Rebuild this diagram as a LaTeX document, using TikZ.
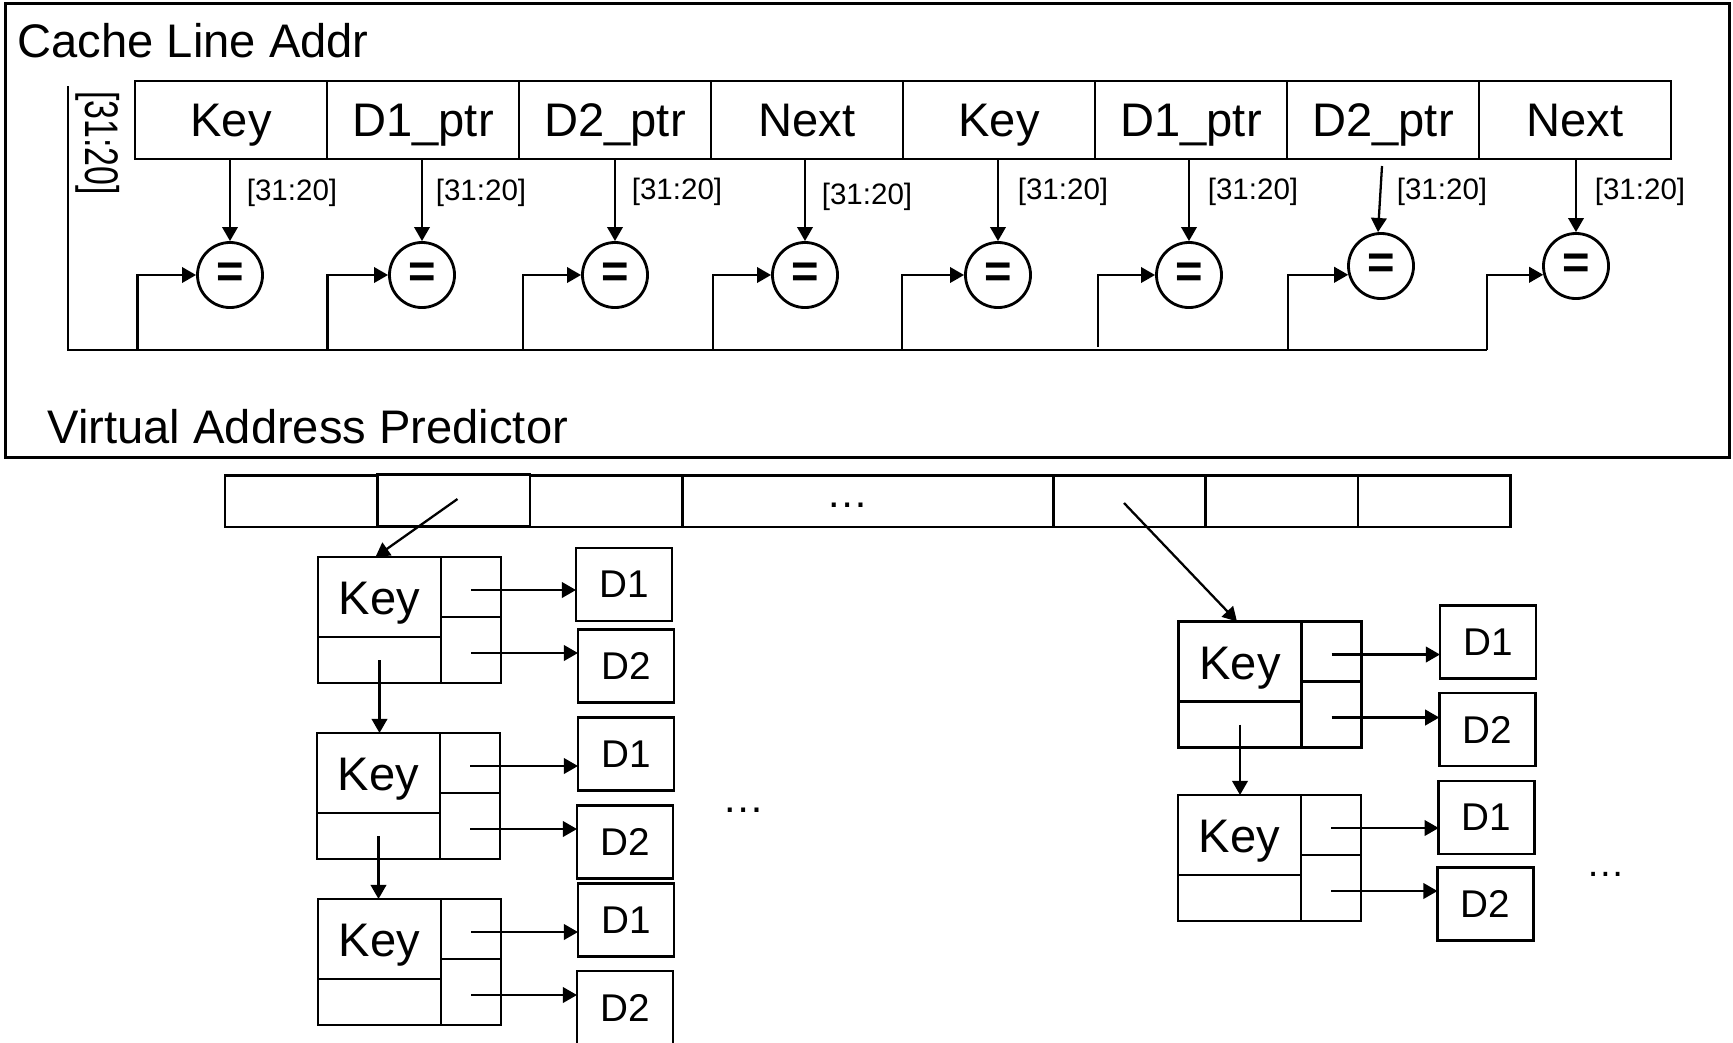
\documentclass[tikz,border=0pt]{standalone}
\usepackage{fontspec}
\setmainfont{Liberation Sans}
\usetikzlibrary{arrows.meta,calc}
\newcommand{\LLnode}[3]{% name, left x, top y
  \node[keybox] (#1k) at (#2+61.5,#3+40) {Key};
  \node[box, minimum width=1.23cm, minimum height=0.46cm] (#1n) at (#2+61.5,#3+103) {};
  \node[box, minimum width=0.60cm, minimum height=0.60cm] (#1p) at (#2+153,#3+30) {};
  \node[box, minimum width=0.60cm, minimum height=0.66cm] (#1q) at (#2+153,#3+93) {};
  \coordinate (#1pa) at ($(#1p.center)+(0,3)$);
  \coordinate (#1qa) at ($(#1q.center)+(0,3)$);
}
\begin{document}
\begin{tikzpicture}[x=0.01cm,y=-0.01cm,
  box/.style={draw, line width=0.8pt, inner sep=0pt, outer sep=0pt},
  bigtxt/.style={font=\fontsize{13.4}{16}\selectfont},
  field/.style={box, bigtxt, minimum width=1.92cm, minimum height=0.78cm, text height=12.5pt, text depth=2.95pt},
  cmp/.style={draw, circle, line width=0.8pt, minimum size=0.65cm, inner sep=0pt, font=\fontsize{13.4}{16}\selectfont\bfseries},
  lbl/.style={font=\fontsize{8.4}{10}\selectfont, inner sep=0pt},
  conn/.style={line width=0.65pt},
  arr/.style={conn, -{Triangle[length=4pt,width=4.4pt]}},
  keybox/.style={box, bigtxt, minimum width=1.23cm, minimum height=0.8cm, text height=12.9pt, text depth=2.95pt},
  dbox/.style={box, font=\fontsize{11}{13}\selectfont, minimum width=0.96cm, minimum height=0.73cm},
  cellbox/.style={box, minimum height=0.515cm},
  dots/.style={inner sep=0pt, font=\fontsize{12}{14}\selectfont}
]
\useasboundingbox (0,0) rectangle (1733,1042);
\clip (0,0) rectangle (1733,1042);

% ---------- upper frame ----------
\node[box, minimum width=17.23cm, minimum height=4.53cm] (frame) at (867.5,230.5) {};
\node[bigtxt, anchor=base west, inner sep=0pt] (t1) at (17,57) {Cache Line Addr};
\node[bigtxt, anchor=base west, inner sep=0pt] (t2) at (47,443) {Virtual Address Predictor};
\node[bigtxt, rotate=-90, inner sep=0pt] (vl) at (98,143) {\scalebox{0.72}[1]{[31:20]}};

% fields
\node[field] (f1) at (231,120) {Key};
\node[field] (f2) at (423,120) {D1\_ptr};
\node[field] (f3) at (615,120) {D2\_ptr};
\node[field] (f4) at (807,120) {Next};
\node[field] (f5) at (999,120) {Key};
\node[field] (f6) at (1191,120) {D1\_ptr};
\node[field] (f7) at (1383,120) {D2\_ptr};
\node[field] (f8) at (1575,120) {Next};

% comparators
\node[cmp] (c1) at (230,275) {\raisebox{-0.08em}{=}};
\node[cmp] (c2) at (422,275) {\raisebox{-0.08em}{=}};
\node[cmp] (c3) at (615,275) {\raisebox{-0.08em}{=}};
\node[cmp] (c4) at (805,275) {\raisebox{-0.08em}{=}};
\node[cmp] (c5) at (998,275) {\raisebox{-0.08em}{=}};
\node[cmp] (c6) at (1189,275) {\raisebox{-0.08em}{=}};
\node[cmp] (c7) at (1381,266) {\raisebox{-0.08em}{=}};
\node[cmp] (c8) at (1576,266) {\raisebox{-0.08em}{=}};

\draw[arr] (f1.south -| c1) -- (c1);
\draw[arr] (f2.south -| c2) -- (c2);
\draw[arr] (f3.south -| c3) -- (c3);
\draw[arr] (f4.south -| c4) -- (c4);
\draw[arr] (f5.south -| c5) -- (c5);
\draw[arr] (f6.south -| c6) -- (c6);
\draw[arr] ($(f7.south)+(-1,7)$) -- ($(c7.north)+(-3,0)$);
\draw[arr] (f8.south -| c8) -- (c8);

\node[lbl] (l1) at (292,193) {[31:20]};
\node[lbl] (l2) at (481,193) {[31:20]};
\node[lbl] (l3) at (677,192) {[31:20]};
\node[lbl] (l4) at (867,197) {[31:20]};
\node[lbl] (l5) at (1063,192) {[31:20]};
\node[lbl] (l6) at (1253,192) {[31:20]};
\node[lbl] (l7) at (1442,192) {[31:20]};
\node[lbl] (l8) at (1640,192) {[31:20]};

% bus
\coordinate (bt) at (68,86);
\coordinate (bb) at (1487,350);
\draw[conn] (bt) |- (bb);
\coordinate (r1) at (137.5,350);
\coordinate (r2) at (327.5,350);
\coordinate (r3) at (523,350);
\coordinate (r4) at (713,350);
\coordinate (r5) at (902,350);
\coordinate (r6) at (1098,347);
\coordinate (r7) at (1288,350);
\draw[arr] (r1) |- (c1.west);
\draw[arr] (r2) |- (c2.west);
\draw[arr] (r3) |- (c3.west);
\draw[arr] (r4) |- (c4.west);
\draw[arr] (r5) |- (c5.west);
\draw[arr] (r6) |- (c6.west);
\draw[arr] (r7) |- (c7.195);
\draw[arr] (bb) |- (c8.195);

% ---------- lower: hash table ----------
\node[cellbox, minimum width=1.525cm] (a1) at (301.25,501.25) {};
\node[cellbox, minimum width=1.525cm] (a2) at (453.75,500.5) {};
\node[cellbox, minimum width=1.525cm] (a3) at (606.25,501.25) {};
\node[cellbox, minimum width=3.705cm] (a4) at (867.75,501.25) {};
\node[cellbox, minimum width=1.525cm] (a5) at (1129.25,501.25) {};
\node[cellbox, minimum width=1.525cm] (a6) at (1281.75,501.25) {};
\node[cellbox, minimum width=1.525cm] (a7) at (1434.25,501.25) {};
\node[dots] (e0) at (848,505) {…};

% linked nodes
\LLnode{L1}{318}{557}
\LLnode{L2}{317}{733}
\LLnode{L3}{318}{899}
\LLnode{R1}{1178.5}{621.5}
\LLnode{R2}{1178}{795}

\node[dbox] (L1d1) at (624,584.5) {D1};
\node[dbox] (L1d2) at (626,666) {D2};
\node[dbox] (L2d1) at (626,754) {D1};
\node[dbox] (L2d2) at (625,841.7) {D2};
\node[dbox] (L3d1) at (626,920) {D1};
\node[dbox] (L3d2) at (625,1007.5) {D2};
\node[dbox] (R1d1) at (1488,642) {D1};
\node[dbox] (R1d2) at (1487.3,729.5) {D2};
\node[dbox] (R2d1) at (1486.7,817.5) {D1};
\node[dbox] (R2d2) at (1485.5,904.3) {D2};

\foreach \n in {L1,L2,L3,R1,R2}{
  \draw[arr] (\n pa) -- (\n pa -| \n d1.west);
  \draw[arr] (\n qa) -- (\n qa -| \n d2.west);
}

\draw[arr] (L1n.center) -- (L1n.center |- L2k.north);
\draw[arr] (L2n.center) -- (L2n.center |- L3k.north);
\draw[arr] (R1n.center) -- (R1n.center |- R2k.north);

\coordinate (s1) at (457.5,499);
\coordinate (s2) at (1124,503);
\draw[arr] (s1) -- ($(L1k.north)+(-4,0)$);
\draw[arr] (s2) -- ($(R1k.north)+(-3,0)$);

\node[dots] (e1) at (744,810) {…};
\node[dots, font=\fontsize{11}{13}\selectfont] (e2) at (1606,874) {…};
\end{tikzpicture}
\end{document}
